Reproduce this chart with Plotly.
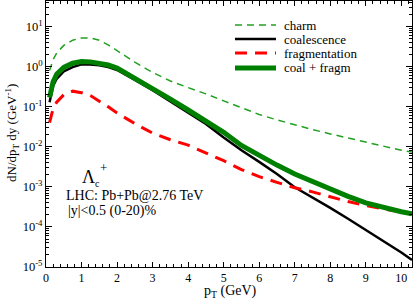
import plotly.graph_objects as go

pt = [0.1, 0.2, 0.3, 0.5, 0.75, 1.0, 1.25, 1.5, 1.75, 2.0, 2.5, 3.0, 3.5, 4.0, 4.5, 5.0,
      5.5, 6.0, 6.5, 7.0, 7.5, 8.0, 8.5, 9.0, 9.5, 10.0, 10.3]

charm = [0.8, 1.5, 2.2, 3.4, 4.6, 5.2, 5.2, 4.6, 3.5, 2.5, 1.3, 0.72, 0.44, 0.3, 0.21, 0.14,
         0.095, 0.064, 0.047, 0.035, 0.027, 0.021, 0.0165, 0.013, 0.0105, 0.0082, 0.0074]
coal = [0.13, 0.33, 0.5, 0.76, 0.98, 1.14, 1.13, 1.08, 0.98, 0.83, 0.47, 0.26, 0.135, 0.071, 0.037, 0.017,
        0.0082, 0.0042, 0.0021, 0.00098, 0.00055, 0.0003, 0.00016, 8.5e-5, 4.5e-5, 2.3e-5, 1.5e-5]
frag = [0.04, 0.09, 0.13, 0.2, 0.245, 0.225, 0.19, 0.14, 0.1, 0.07, 0.038, 0.022, 0.015, 0.011, 0.0072, 0.0045,
        0.0027, 0.0018, 0.0013, 0.00095, 0.00075, 0.00056, 0.00043, 0.00034, 0.00028, 0.00023, 0.00021]
total = [0.17, 0.42, 0.65, 0.96, 1.22, 1.34, 1.32, 1.24, 1.1, 0.92, 0.52, 0.29, 0.155, 0.083, 0.045, 0.023,
         0.0108, 0.006, 0.0035, 0.0021, 0.00135, 0.00089, 0.00058, 0.0004, 0.0003, 0.00024, 0.000214]

ytickvals = [1e-5, 1e-4, 1e-3, 1e-2, 1e-1, 1, 10]
yticktext = ["10<sup>-5</sup>", "10<sup>-4</sup>", "10<sup>-3</sup>", "10<sup>-2</sup>",
             "10<sup>-1</sup>", "10<sup>0</sup>", "10<sup>1</sup>"]
xtickvals = list(range(0, 11))

FONT = "Liberation Serif, Times New Roman, serif"

# plot area in pixels
L, R, T, B = 46, 412, 1, 267
def px(x):
    return (x - L) / (R - L)
def py(y):
    return (B - y) / (B - T)

series = [
    ("charm", charm, dict(color="#22a022", width=1.5, dash="7px,5px")),
    ("coalescence", coal, dict(color="black", width=2.5)),
    ("fragmentation", frag, dict(color="#ff0000", width=3, dash="12px,8px")),
    ("coal + fragm", total, dict(color="#008000", width=5)),
]

fig = go.Figure()
for name, ys, ln in series:
    fig.add_trace(go.Scatter(x=pt, y=ys, mode="lines", name=name, line=ln, showlegend=False))

fig.update_layout(
    template="none",
    width=415, height=300,
    margin=dict(l=L, r=415 - R, t=T, b=300 - B),
    paper_bgcolor="white", plot_bgcolor="white",
    font=dict(family=FONT, size=13, color="black"),
    showlegend=False,
    xaxis=dict(range=[0, 10.3], tickvals=xtickvals, ticks="inside", ticklen=5,
               tickcolor="black", showline=True, linecolor="black", linewidth=1, mirror="ticks",
               showgrid=False, zeroline=False, automargin=False,
               minor=dict(dtick=0.2, ticks="inside", ticklen=3, tickcolor="black", showgrid=False),
               tickfont=dict(family=FONT, size=12)),
    yaxis=dict(type="log", range=[-5, 1.64], tickvals=ytickvals, ticktext=yticktext,
               ticks="inside", ticklen=6, tickcolor="black", showline=True, linecolor="black",
               linewidth=1, mirror="ticks", showgrid=False, zeroline=False, automargin=False,
               minor=dict(ticks="inside", ticklen=3, tickcolor="black", dtick="D1", showgrid=False),
               tickfont=dict(family=FONT, size=12.5)),
)

# legend drawn by hand
leg_rows = [25, 39, 53, 68]
for (name, ys, ln), yrow in zip(series, leg_rows):
    fig.add_shape(type="line", xref="paper", yref="paper",
                  x0=px(235), x1=px(276), y0=py(yrow), y1=py(yrow), line=ln)
    fig.add_annotation(x=px(282), y=py(yrow), xref="paper", yref="paper", text=name,
                       showarrow=False, xanchor="left", yanchor="middle",
                       font=dict(family=FONT, size=13, color="black"))

ann = [
    dict(x=88, y=177, text="Λ", size=18),
    dict(x=97, y=183, text="c", size=10),
    dict(x=103, y=167, text="+", size=13),
    dict(x=64, y=196, text="LHC: Pb+Pb@2.76 TeV", size=14, anchor="left"),
    dict(x=66, y=211, text="|y|<0.5 (0-20)%", size=14, anchor="left"),
    dict(x=230, y=291, text="p<sub>T</sub> (GeV)", size=14),
]
for a in ann:
    fig.add_annotation(x=px(a["x"]), y=py(a["y"]), xref="paper", yref="paper",
                       text=a["text"], showarrow=False, xanchor=a.get("anchor", "center"),
                       yanchor="middle", font=dict(family=FONT, size=a["size"], color="black"))

fig.add_annotation(x=px(12), y=py(133), xref="paper", yref="paper",
                   text="dN/dp<sub>T</sub> dy (GeV<sup>-1</sup>)", textangle=-90,
                   showarrow=False, xanchor="center", yanchor="middle",
                   font=dict(family=FONT, size=13, color="black"))

fig.write_html("out.html", config={"displayModeBar": False},
               post_script="document.body.style.margin='0px';")
